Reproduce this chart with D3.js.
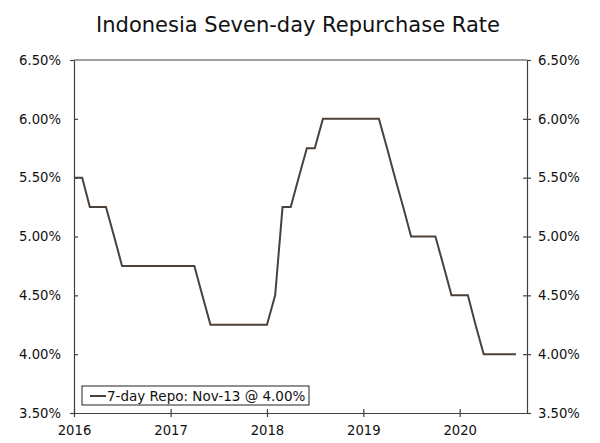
<!DOCTYPE html>
<html>
<head>
<meta charset="utf-8">
<script src="https://cdn.jsdelivr.net/npm/d3@7"></script>
<style>
  body { margin: 0; background: #fff; }
  svg { display: block; font-family: "DejaVu Sans", Verdana, sans-serif; }
</style>
</head>
<body>
<script>
// monthly readings, Jan 2016 .. Aug 2020
var months = ["2016-01","2016-02","2016-03","2016-04","2016-05","2016-06","2016-07","2016-08",
  "2016-09","2016-10","2016-11","2016-12","2017-01","2017-02","2017-03","2017-04","2017-05",
  "2017-06","2017-07","2017-08","2017-09","2017-10","2017-11","2017-12","2018-01","2018-02",
  "2018-03","2018-04","2018-05","2018-06","2018-07","2018-08","2018-09","2018-10","2018-11",
  "2018-12","2019-01","2019-02","2019-03","2019-04","2019-05","2019-06","2019-07","2019-08",
  "2019-09","2019-10","2019-11","2019-12","2020-01","2020-02","2020-03","2020-04","2020-05",
  "2020-06","2020-07","2020-08"];
var repo = [5.50,5.50,5.25,5.25,5.25,5.00,4.75,4.75,4.75,4.75,4.75,4.75,4.75,4.75,4.75,4.75,
  4.50,4.25,4.25,4.25,4.25,4.25,4.25,4.25,4.25,
  4.50,5.25,5.25,5.50,5.75,5.75,6.00,
  6.00,6.00,6.00,6.00,6.00,6.00,6.00,
  5.75,5.50,5.25,5.00,5.00,5.00,5.00,
  4.75,4.50,4.50,4.50,4.25,4.00,4.00,4.00,4.00,4.00];
var yearTicks = ["2016","2017","2018","2019","2020"];
var rateTicks = [3.5, 4.0, 4.5, 5.0, 5.5, 6.0, 6.5];
var legendLabel = "7-day Repo: Nov-13 @ 4.00%";

var width = 600, height = 443;
var margin = {top: 60, right: 73, bottom: 30, left: 74};
var lineColor = "#4b4139", axisColor = "#404040";

var parseMonth = d3.timeParse("%Y-%m");
var data = months.map(function(m, i){ return {date: parseMonth(m), value: repo[i]}; });

var svg = d3.select("body").append("svg")
            .attr("width", width)
            .attr("height", height);

var x = d3.scaleTime()
          .domain([new Date(2016, 0, 1), new Date(2020, 8, 12)])
          .range([margin.left, width - margin.right]);

var y = d3.scaleLinear()
          .domain([3.5, 6.5])
          .range([height - margin.bottom, margin.top]);

// title
svg.append("text")
   .attr("x", 298)
   .attr("y", 32)
   .attr("text-anchor", "middle")
   .attr("font-size", 21)
   .attr("fill", "#111")
   .text("Indonesia Seven-day Repurchase Rate");

// frame top
svg.append("line")
   .attr("x1", margin.left).attr("x2", width - margin.right)
   .attr("y1", margin.top).attr("y2", margin.top)
   .attr("stroke", axisColor).attr("stroke-width", 1.2);

var fmt = function(d){ return d3.format(".2f")(d) + "%"; };

function styleAxis(g){
    g.select(".domain").attr("stroke", axisColor).attr("stroke-width", 1.2);
    g.selectAll(".tick line").attr("stroke", axisColor).attr("stroke-width", 1.2);
    g.selectAll(".tick text").attr("fill", "#111").attr("font-size", 13.2)
     .attr("font-family", "\"DejaVu Sans\", Verdana, sans-serif");
}

// left axis: ticks straddle the line
var yLeft = svg.append("g")
   .attr("transform", "translate(" + margin.left + ",0)")
   .call(d3.axisLeft(y).tickValues(rateTicks).tickFormat(fmt).tickSizeInner(4).tickSizeOuter(0).tickPadding(9));
yLeft.call(styleAxis);
yLeft.selectAll(".tick line").filter(function(d){ return d > 3.5 && d < 6.5; }).attr("x2", 4);

var yRight = svg.append("g")
   .attr("transform", "translate(" + (width - margin.right) + ",0)")
   .call(d3.axisRight(y).tickValues(rateTicks).tickFormat(fmt).tickSizeInner(4).tickSizeOuter(0).tickPadding(7));
yRight.call(styleAxis);
yRight.selectAll(".tick line").filter(function(d){ return d > 3.5 && d < 6.5; }).attr("x2", -4).attr("x1", 4);

var xAxis = svg.append("g")
   .attr("transform", "translate(0," + (height - margin.bottom) + ")")
   .call(d3.axisBottom(x)
        .tickValues(yearTicks.map(function(t){ return new Date(+t, 0, 1); }))
        .tickFormat(d3.timeFormat("%Y"))
        .tickSizeInner(4).tickSizeOuter(0).tickPadding(6));
xAxis.call(styleAxis);
xAxis.selectAll(".tick line").attr("y1", -4);
xAxis.selectAll(".tick text").attr("dy", "0.9em");

// series
var line = d3.line()
             .x(function(d){ return x(d.date); })
             .y(function(d){ return y(d.value); });

svg.append("path")
   .datum(data)
   .attr("d", line)
   .attr("fill", "none")
   .attr("stroke", lineColor)
   .attr("stroke-width", 2)
   .attr("stroke-linejoin", "miter");

// legend
var lg = svg.append("g").attr("transform", "translate(82,386)");
lg.append("rect")
  .attr("width", 227).attr("height", 19)
  .attr("fill", "#fff").attr("stroke", "#222").attr("stroke-width", 1);
lg.append("line")
  .attr("x1", 8).attr("x2", 24).attr("y1", 10).attr("y2", 10)
  .attr("stroke", lineColor).attr("stroke-width", 2);
lg.append("text")
  .attr("x", 25).attr("y", 14.5)
  .attr("font-size", 13.5).attr("fill", "#111")
  .text(legendLabel);
</script>
</body>
</html>
